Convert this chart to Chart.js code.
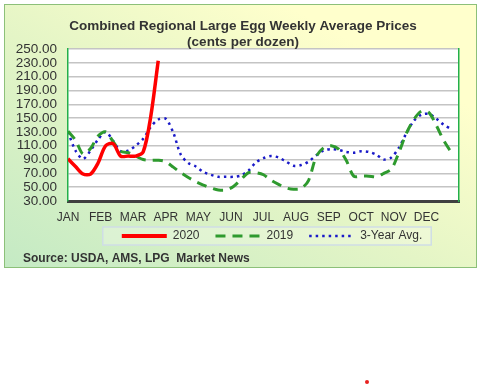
<!DOCTYPE html>
<html>
<head>
<meta charset="utf-8">
<script src="https://cdn.jsdelivr.net/npm/chart.js@4.4.1/dist/chart.umd.min.js"></script>
<style>
  html, body { margin: 0; padding: 0; background: #fff; }
  body { width: 486px; height: 385px; position: relative; overflow: hidden; }
  .frame {
    position: absolute; left: 4px; top: 4px; width: 471px; height: 262px;
    border: 1.5px solid #8cc079;
    background: linear-gradient(to top right, #c4eac4 0%, #e4f5c6 45%, #ffffcc 80%);
  }
  #wrap { position: absolute; left: 0; top: 0; width: 486px; height: 280px; }
  .dot { position: absolute; left: 365px; top: 380px; width: 4px; height: 4px; border-radius: 50%; background: #e8201e; }
</style>
</head>
<body>
<div class="frame"></div>
<div id="wrap"><canvas id="eggChart" width="486" height="280"></canvas></div>
<div class="dot"></div>
<script>
// month labels on the x axis (52 weeks across the year)
const months = ['JAN', 'FEB', 'MAR', 'APR', 'MAY', 'JUN', 'JUL', 'AUG', 'SEP', 'OCT', 'NOV', 'DEC'];
const weeksInYear = 52;

// weekly prices, cents per dozen
const prices2020 = [91, 80, 69, 69, 85, 110, 113, 95, 95, 95, 101, 152, 233];
const prices2019 = [131, 118, 98, 106, 124, 130, 116, 102, 100, 95, 90, 89, 89, 87, 79, 71,
    64, 58, 53, 49, 46, 46, 51, 61, 71, 71, 68, 60, 54, 49, 47, 48, 60, 94, 107, 110,
    105, 89, 66, 66, 66, 65, 70, 76, 100, 128, 148, 160, 158, 139, 117, 100];
const threeYearAvg = [130, 103, 91, 103, 119, 130, 117, 102, 103, 110, 120, 137, 148, 149, 129, 97,
    85, 80, 72, 68, 65, 65, 65, 67, 74, 86, 92, 95, 93, 87, 81, 82, 87, 96, 103, 105,
    104, 101, 100, 102, 101, 97, 90, 93, 107, 128, 146, 155, 156, 149, 140, 134];

const yMin = 30;
const yMax = 250;
const yStep = 20;

const FONT = '"Liberation Sans", Arial, sans-serif';
const TEXT = '#333';

const toPoints = arr => arr.map((v, i) => ({ x: i, y: v }));

// white plot area, legend frame, source note
const frameDecor = {
    id: 'frameDecor',
    afterLayout(chart) {
        const lg = chart.legend;
        lg.left += 29;
        lg.right += 29;
        const h = lg.bottom - lg.top;
        lg.top = 214;
        lg.bottom = 214 + h;
    },
    beforeDraw(chart) {
        const { ctx, chartArea: a } = chart;
        ctx.save();
        ctx.fillStyle = '#fff';
        ctx.fillRect(a.left, a.top, a.right - a.left, a.bottom - a.top);

        const hits = chart.legend.legendHitBoxes;
        if (hits && hits.length) {
            const first = hits[0];
            const last = hits[hits.length - 1];
            const x0 = first.left - 19;
            const x1 = last.left + last.width + 9;
            const y0 = first.top - 3;
            ctx.fillStyle = 'rgba(255,255,255,0.25)';
            ctx.fillRect(x0, y0, x1 - x0, 18);
            ctx.strokeStyle = '#cfdde6';
            ctx.lineWidth = 1.5;
            ctx.strokeRect(x0, y0, x1 - x0, 18);
        }
        ctx.restore();
    },
    afterDraw(chart) {
        const ctx = chart.ctx;
        ctx.save();
        ctx.font = 'bold 12px ' + FONT;
        ctx.fillStyle = TEXT;
        ctx.textBaseline = 'middle';
        ctx.fillText('Source: USDA, AMS, LPG  Market News', 23, 259);
        ctx.restore();
    }
};

const ctx = document.getElementById('eggChart').getContext('2d');
new Chart(ctx, {
    type: 'line',
    data: {
        datasets: [{
            label: '2020',
            data: toPoints(prices2020),
            borderColor: '#ff0000',
            borderWidth: 3.5,
            tension: 0.3,
            pointRadius: 0
        }, {
            label: '2019',
            data: toPoints(prices2019),
            borderColor: '#2e9a2e',
            borderWidth: 3,
            borderDash: [10, 7],
            tension: 0.3,
            pointRadius: 0
        }, {
            label: '3-Year Avg.',
            data: toPoints(threeYearAvg),
            borderColor: '#1a1ac8',
            borderWidth: 2.5,
            borderDash: [2.5, 4],
            tension: 0.3,
            pointRadius: 0
        }]
    },
    options: {
        responsive: false,
        devicePixelRatio: 1,
        animation: false,
        layout: { padding: { top: 0, left: 0, right: 0, bottom: 7 } },
        plugins: {
            title: {
                display: true,
                text: ['Combined Regional Large Egg Weekly Average Prices', '(cents per dozen)'],
                color: TEXT,
                font: { family: FONT, size: 13.5, weight: 'bold', lineHeight: 1.2 },
                padding: { top: 17.9, bottom: -1.3 }
            },
            legend: {
                position: 'bottom',
                labels: {
                    color: TEXT,
                    font: { family: FONT, size: 12 },
                    usePointStyle: true,
                    pointStyle: 'line',
                    pointStyleWidth: 45,
                    padding: 16,
                    generateLabels: chart => Chart.defaults.plugins.legend.labels.generateLabels(chart).map(item => {
                        const ds = chart.data.datasets[item.datasetIndex];
                        item.lineDash = ds.borderDash || [];
                        item.lineWidth = ds.borderDash ? ds.borderWidth : 4;
                        item.strokeStyle = ds.borderColor;
                        return item;
                    })
                }
            },
            tooltip: { enabled: false }
        },
        scales: {
            x: {
                type: 'linear',
                min: 0,
                max: weeksInYear,
                afterBuildTicks: scale => {
                    scale.ticks = months.map((m, i) => ({ value: i * weeksInYear / months.length }));
                },
                grid: { display: false, drawTicks: false },
                border: { display: true, color: '#404040', width: 3 },
                ticks: {
                    autoSkip: false,
                    maxRotation: 0,
                    padding: 9.8,
                    color: TEXT,
                    font: { family: FONT, size: 12 },
                    callback: (v, i) => months[i]
                }
            },
            y: {
                min: yMin,
                max: yMax,
                afterFit: scale => { scale.width = 68; },
                grid: { color: '#c4c4c4', lineWidth: 1.5, drawTicks: false },
                border: { display: true, color: '#22b04a', width: 1.5 },
                ticks: {
                    stepSize: yStep,
                    autoSkip: false,
                    padding: 11,
                    color: TEXT,
                    font: { family: FONT, size: 13.5 },
                    callback: v => v.toFixed(2)
                }
            },
            yRight: {
                position: 'right',
                afterFit: scale => { scale.width = 27; },
                grid: { display: false, drawTicks: false },
                border: { display: true, color: '#22b04a', width: 1.5 },
                ticks: { display: false }
            }
        }
    },
    plugins: [frameDecor]
});
</script>
</body>
</html>
